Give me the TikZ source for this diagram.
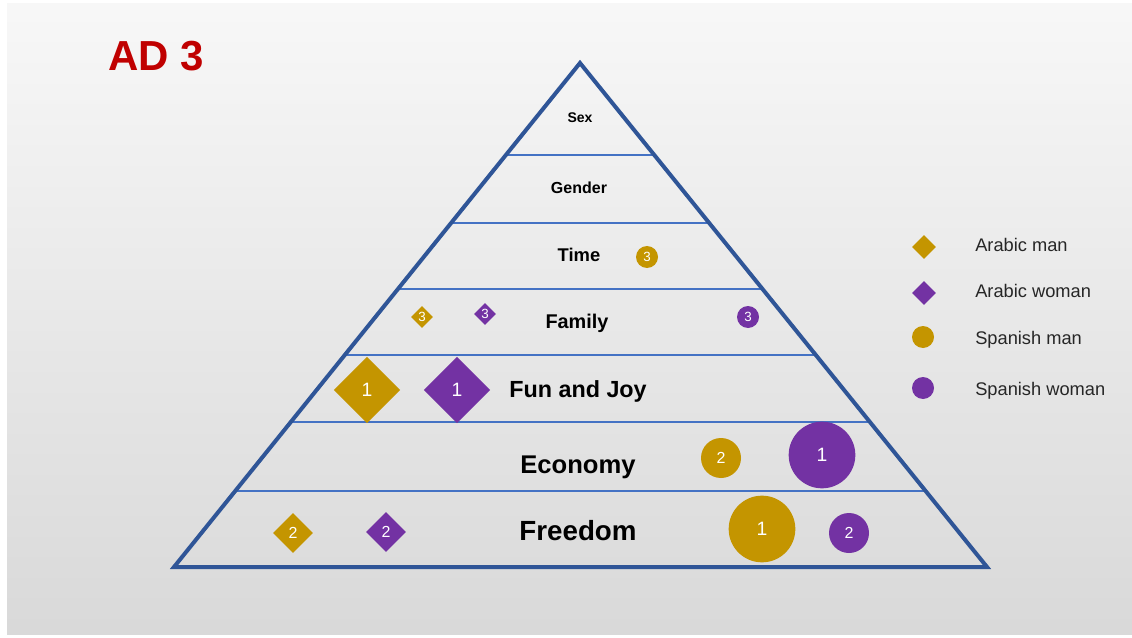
\documentclass[tikz,border=0pt]{standalone}
\usepackage{fontspec}
\setmainfont{Liberation Sans}
\usepackage{xcolor}
\usetikzlibrary{calc,shapes.geometric}

\definecolor{pyramidblue}{HTML}{2F5597}
\definecolor{tierblue}{HTML}{4472C4}
\definecolor{goldfill}{HTML}{C49500}
\definecolor{purplefill}{HTML}{7332A3}
\definecolor{titlered}{HTML}{C00000}
\definecolor{legendgrey}{HTML}{262626}

\newcommand{\fsz}[1]{\fontsize{#1}{#1}\selectfont}

\tikzset{
  tierlabel/.style={font=\fsz{#1}\bfseries, text=black, anchor=base, inner sep=0pt},
  markbase/.style={inner sep=0pt, text=white},
  armark/.style={markbase, diamond, aspect=1, fill=goldfill},
  awmark/.style={markbase, diamond, aspect=1, fill=purplefill},
  smmark/.style={markbase, circle, fill=goldfill},
  swmark/.style={markbase, circle, fill=purplefill},
  smallmark/.style={minimum size=16.5pt, font=\fsz{10}},
  midmark/.style={minimum size=30pt, font=\fsz{12}},
  bigmark/.style={minimum size=50pt, font=\fsz{14.5}},
  legendtext/.style={anchor=base west, inner sep=0pt, text=legendgrey, font=\fsz{13.7}},
  tierline/.style={draw=tierblue, line width=2pt},
  pyramidline/.style={draw=pyramidblue, line width=3pt, line join=miter}
}

\begin{document}
\begin{tikzpicture}[x=0.75pt, y=-0.75pt]
% page and slide background
\useasboundingbox (0,0) rectangle (1132,638);
\fill[white] (0,0) rectangle (1132,638);
\shade[top color=black!3, bottom color=black!15] (7,4) rectangle (1132,634);

\node[anchor=base west, inner sep=0pt, text=titlered, font=\fsz{31.5}\bfseries] (title) at (108,71) {AD 3};

% pyramid with its tiers
\coordinate (apex) at (580,63);
\coordinate (bl) at (174,567);
\coordinate (br) at (987,567);
\foreach \t in {0.1825,0.3175,0.4484,0.5794,0.7123,0.8492}
  \draw[tierline] ($(apex)!\t!(bl)$) -- ($(apex)!\t!(br)$);
\draw[pyramidline] (apex) -- (bl) -- (br) -- cycle;

\node[tierlabel=10.5] (sex) at (580,123) {Sex};
\node[tierlabel=12] (gender) at (579,194) {Gender};
\node[tierlabel=13.8] (time) at (579,262) {Time};
\node[tierlabel=14.9] (family) at (577,328) {Family};
\node[tierlabel=17.5] (fun) at (578,397) {Fun and Joy};
\node[tierlabel=19.2] (economy) at (578,473) {Economy};
\node[tierlabel=20.8] (freedom) at (578,540) {Freedom};

% ranks per group
\node[smmark, smallmark] (time-sm) at (647,257) {3};
\node[armark, smallmark] (family-am) at (422,317) {3};
\node[awmark, smallmark] (family-aw) at (485,314) {3};
\node[swmark, smallmark] (family-sw) at (748,317) {3};
\node[armark, bigmark] (fun-am) at (367,390) {1};
\node[awmark, bigmark] (fun-aw) at (457,390) {1};
\node[smmark, midmark] (economy-sm) at (721,458) {2};
\node[swmark, bigmark] (economy-sw) at (822,455) {1};
\node[armark, midmark] (freedom-am) at (293,533) {2};
\node[awmark, midmark] (freedom-aw) at (386,532) {2};
\node[smmark, bigmark] (freedom-sm) at (762,529) {1};
\node[swmark, midmark] (freedom-sw) at (849,533) {2};

% legend
\node[armark, minimum size=18pt] (key-am) at (924,247) {};
\node[awmark, minimum size=18pt] (key-aw) at (924,293) {};
\node[smmark, minimum size=16.5pt] (key-sm) at (923,337) {};
\node[swmark, minimum size=16.5pt] (key-sw) at (923,388) {};
\node[legendtext] (key-am-text) at (975,252) {Arabic man};
\node[legendtext] (key-aw-text) at (975,297) {Arabic woman};
\node[legendtext] (key-sm-text) at (975,344) {Spanish man};
\node[legendtext] (key-sw-text) at (975,395) {Spanish woman};
\end{tikzpicture}
\end{document}
